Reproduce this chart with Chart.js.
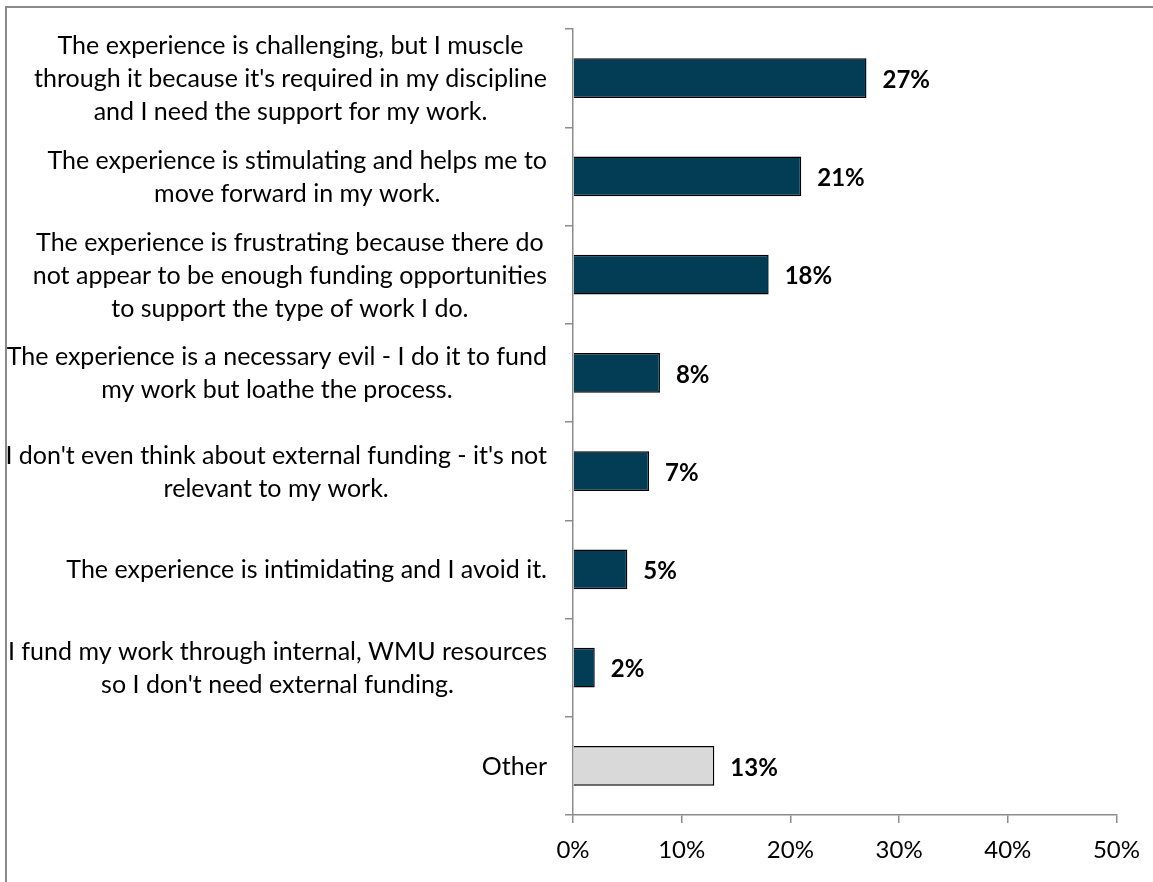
<!DOCTYPE html>
<html>
<head>
<meta charset="utf-8">
<title>Experience with external funding</title>
<script src="https://cdn.jsdelivr.net/npm/chart.js@4/dist/chart.umd.min.js"></script>
<style>
  html, body { margin: 0; padding: 0; background: #fff; overflow: hidden; }
  #wrap { position: relative; width: 1153px; height: 882px; }
</style>
</head>
<body>
<div id="wrap"><canvas id="c" width="1153" height="882"></canvas></div>
<script>
// Response options, one array of text lines per bar
const categories = [
  ["The experience is challenging, but I muscle", "through it because it's required in my discipline", "and I need the support for my work."],
  ["The experience is stimulating and helps me to", "move forward in my work."],
  ["The experience is frustrating because there do", "not appear to be enough funding opportunities", "to support the type of work I do."],
  ["The experience is a necessary evil - I do it to fund", "my work but loathe the process."],
  ["I don't even think about external funding - it's not", "relevant to my work."],
  ["The experience is intimidating and I avoid it."],
  ["I fund my work through internal, WMU resources", "so I don't need external funding."],
  ["Other"]
];

// Share of respondents (%)
const percentages = [27, 21, 18, 8, 7, 5, 2, 13];

// Value-axis ticks (%)
const xTickValues = [0, 10, 20, 30, 40, 50];

const MAIN = '#023d55';
const OTHER = '#d9d9d9';
const barColors = categories.map((c, i) => (i === categories.length - 1 ? OTHER : MAIN));

const FONT = 'Lato';
const AXIS_GRAY = '#8c8c8c';

// Thin grey frame along the left and top edges
const framePlugin = {
  id: 'frame',
  beforeDraw(chart) {
    const ctx = chart.ctx;
    ctx.save();
    ctx.strokeStyle = '#8a8a8a';
    ctx.lineWidth = 2;
    ctx.beginPath();
    ctx.moveTo(6, chart.height);
    ctx.lineTo(6, 7);
    ctx.lineTo(chart.width, 7);
    ctx.stroke();
    ctx.restore();
  }
};

// Category labels: each block right-aligned to the axis, its lines centred within the block
const categoryLabelPlugin = {
  id: 'categoryLabels',
  afterDraw(chart) {
    const ctx = chart.ctx;
    const yScale = chart.scales.y;
    const lineH = 33;
    const rightEdge = chart.chartArea.left - 26;
    ctx.save();
    ctx.font = '25px ' + FONT;
    ctx.fillStyle = '#000';
    ctx.textAlign = 'center';
    ctx.textBaseline = 'middle';
    chart.data.labels.forEach((lines, i) => {
      const yc = yScale.getPixelForValue(i);
      const w = Math.max(...lines.map(l => ctx.measureText(l).width));
      const cx = rightEdge - w / 2;
      const y0 = yc - (lines.length - 1) * lineH / 2 + 1;
      lines.forEach((l, k) => ctx.fillText(l, cx, y0 + k * lineH));
    });
    ctx.restore();
  }
};

// Bold value labels just past the end of each bar
const valueLabelPlugin = {
  id: 'valueLabels',
  afterDatasetsDraw(chart) {
    const ctx = chart.ctx;
    const meta = chart.getDatasetMeta(0);
    const data = chart.data.datasets[0].data;
    ctx.save();
    ctx.font = 'bold 24px ' + FONT;
    ctx.fillStyle = '#000';
    ctx.textAlign = 'left';
    ctx.textBaseline = 'middle';
    meta.data.forEach((bar, i) => {
      ctx.fillText(Math.round(data[i]) + '%', bar.x + 16, bar.y + 2);
    });
    ctx.restore();
  }
};

new Chart(document.getElementById('c'), {
  type: 'bar',
  data: {
    labels: categories,
    datasets: [{
      data: percentages,
      backgroundColor: barColors,
      borderColor: '#000',
      borderWidth: 1.5,
      barPercentage: 0.407,
      categoryPercentage: 1
    }]
  },
  options: {
    indexAxis: 'y',
    responsive: false,
    devicePixelRatio: 1,
    animation: false,
    events: [],
    layout: { padding: { left: 0, right: 35, top: 29, bottom: 0 } },
    plugins: {
      legend: { display: false },
      tooltip: { enabled: false }
    },
    scales: {
      x: {
        min: 0,
        max: 50,
        afterFit(scale) { scale.height = 67; },
        afterBuildTicks(scale) { scale.ticks = xTickValues.map(v => ({ value: v })); },
        ticks: {
          padding: 13,
          color: '#000',
          font: { family: FONT, size: 24 },
          callback: v => v + '%'
        },
        grid: { drawOnChartArea: false, drawTicks: true, tickLength: 8, color: AXIS_GRAY, lineWidth: 1.5 },
        border: { display: true, color: AXIS_GRAY, width: 1.5 }
      },
      y: {
        z: 1,
        offset: true,
        afterFit(scale) { scale.width = 573; },
        ticks: { display: false },
        grid: { offset: true, drawOnChartArea: false, drawTicks: true, tickLength: 8, color: AXIS_GRAY, lineWidth: 1.5 },
        border: { display: true, color: AXIS_GRAY, width: 1.5 }
      }
    }
  },
  plugins: [framePlugin, categoryLabelPlugin, valueLabelPlugin]
});
</script>
</body>
</html>
